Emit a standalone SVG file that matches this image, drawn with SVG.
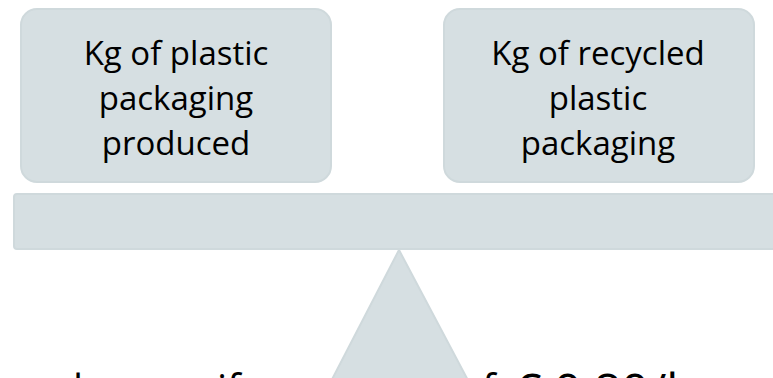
<svg xmlns="http://www.w3.org/2000/svg" width="773" height="378" viewBox="0 0 773 378">
  <style>
    .shape { fill: #d6dfe2; stroke: #cfd9dc; stroke-width: 2; }
    .lbl { font-family: "Open Sans", "Liberation Sans", sans-serif; font-size: 33px; fill: #000; text-anchor: middle; }
    .note { font-family: "Open Sans", "Liberation Sans", sans-serif; font-size: 40px; fill: #000; }
  </style>
  <rect width="773" height="378" fill="#ffffff"/>
  <g id="caption">
    <text class="note" y="403"><tspan x="-54">Example</tspan><tspan x="217">if</tspan><tspan x="458">of </tspan><tspan x="514" y="408" font-size="48">€ 0,80/kg</tspan></text>
  </g>
  <g id="fulcrum">
    <polygon class="shape" points="399,250 311,420 489,420"/>
  </g>
  <g id="beam">
    <rect class="shape" x="14" y="194" width="780" height="55" rx="3"/>
  </g>
  <g id="node-left">
    <rect class="shape" x="21" y="9" width="310" height="173" rx="16"/>
    <text class="lbl" x="176" y="65">Kg of plastic</text>
    <text class="lbl" x="176" y="110">packaging</text>
    <text class="lbl" x="176" y="155">produced</text>
  </g>
  <g id="node-right">
    <rect class="shape" x="444" y="9" width="310" height="173" rx="16"/>
    <text class="lbl" x="598" y="65">Kg of recycled</text>
    <text class="lbl" x="598" y="110">plastic</text>
    <text class="lbl" x="598" y="155">packaging</text>
  </g>
  <g id="connectors"/>
</svg>
